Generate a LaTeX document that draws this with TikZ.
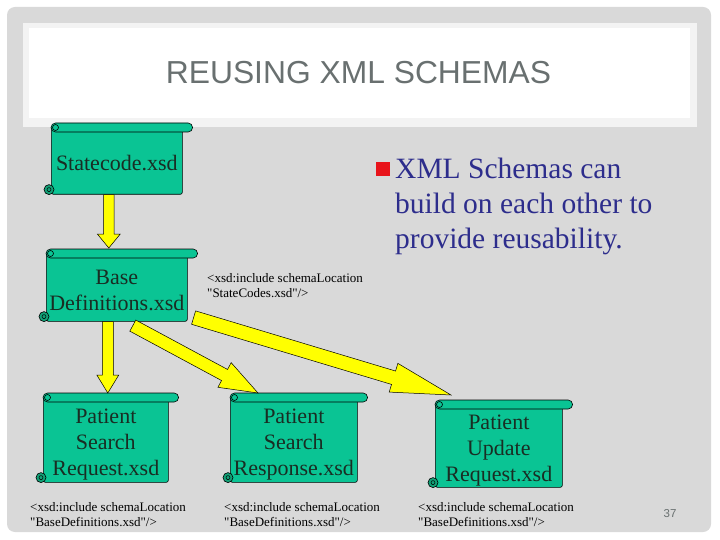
\documentclass[tikz,border=0pt]{standalone}
\usepackage{fontspec}
\setmainfont{Liberation Serif}
\newfontfamily\sansf{Liberation Sans}
\newfontfamily\incfont{Liberation Serif}
\usetikzlibrary{calc}
\definecolor{panelgray}{RGB}{217,217,217}
\definecolor{frameoff}{RGB}{243,243,243}
\definecolor{titlegray}{RGB}{105,112,112}
\definecolor{scrollgreen}{RGB}{10,196,148}
\definecolor{curlgreen}{RGB}{18,160,118}
\definecolor{scrolltext}{RGB}{25,45,35}
\definecolor{arrowyellow}{RGB}{255,255,0}
\definecolor{bulletblue}{RGB}{45,45,140}
\definecolor{bulletred}{RGB}{232,20,27}
\tikzset{
  scrollbody/.style={draw=black, line width=0.6pt, fill=scrollgreen, rounded corners=2pt,
    inner sep=0pt, anchor=north west, text=scrolltext,
    font=\fontsize{22}{26}\selectfont},
  rollpart/.style={draw=black, line width=0.6pt, fill=scrollgreen},
  yarrow/.style={draw=black, line width=0.5pt, fill=arrowyellow, line join=miter},
  inclabel/.style={anchor=north west, inner sep=0pt, align=left,
    font=\incfont\fontsize{13}{15}\selectfont, text=black},
}
\newcommand{\stk}[1]{\raisebox{-4.5pt}[\height][\depth]{\begin{tabular}{@{}c@{}}#1\end{tabular}}}
\newcommand{\scrolldeco}[1]{%
  \draw[rollpart, rounded corners=4.5pt] ([yshift=4pt]#1.north west) rectangle ([xshift=10pt,yshift=-5pt]#1.north east);
  \draw[rollpart] ([xshift=4.5pt,yshift=-0.5pt]#1.north west) circle[radius=3pt];
  \draw[rollpart, fill=curlgreen] ([xshift=-2pt,yshift=5pt]#1.south west) circle[radius=5pt];
  \draw[line width=0.5pt] ([xshift=-2pt,yshift=5pt]#1.south west) circle[radius=2pt];
}
\newcommand{\blockarrow}[5]{%
  \coordinate (ba-h) at ($(#2)!#5!(#1)$);
  \draw[yarrow] ($(#1)!#3!90:(#2)$) -- ($(ba-h)!#3!-90:(#1)$) -- ($(ba-h)!#4!-90:(#1)$) -- (#2)
    -- ($(ba-h)!#4!90:(#1)$) -- ($(ba-h)!#3!90:(#1)$) -- ($(#1)!#3!-90:(#2)$) -- cycle;
}
\begin{document}
\begin{tikzpicture}[x=1pt,y=-1pt]
  \useasboundingbox (0,0) rectangle (720,540);
  \fill[white] (0,0) rectangle (720,540);
  \fill[panelgray, rounded corners=8pt] (7,7) rectangle (711,532);
  \fill[frameoff] (23,23) rectangle (697,127);
  \fill[white] (29,28) rectangle (690,118);
  \node[font=\sansf\fontsize{31.8}{32}\selectfont, text=titlegray] (title) at (358.5,73) {REUSING XML SCHEMAS};

  % scrolls
  \node[scrollbody, minimum width=131pt, minimum height=67pt] (sc) at (51,127) {\stk{Statecode.xsd}};
  \scrolldeco{sc}
  \node[scrollbody, minimum width=141pt, minimum height=68pt] (bd) at (46,253) {\stk{Base\\Definitions.xsd}};
  \scrolldeco{bd}
  \node[scrollbody, minimum width=125pt, minimum height=85pt] (psr) at (43,397) {\stk{Patient\\Search\\Request.xsd}};
  \scrolldeco{psr}
  \node[scrollbody, minimum width=127pt, minimum height=85pt] (psp) at (230,397) {\stk{Patient\\Search\\Response.xsd}};
  \scrolldeco{psp}
  \node[scrollbody, minimum width=127pt, minimum height=83pt] (pur) at (435,404) {\stk{Patient\\Update\\Request.xsd}};
  \scrolldeco{pur}

  % arrows
  \coordinate (a1s) at ([xshift=-8pt]sc.south);
  \coordinate (a1e) at ($(a1s |- bd.north)+(0,-5)$);
  \blockarrow{a1s}{a1e}{5.3pt}{11.5pt}{14pt}
  \coordinate (a2s) at ([xshift=-9pt]bd.south);
  \coordinate (a2e) at ($(a2s |- psr.north)+(0,-4)$);
  \blockarrow{a2s}{a2e}{5.5pt}{11pt}{18pt}
  \coordinate (a3s) at ([xshift=16pt,yshift=-4pt]bd.south);
  \coordinate (a3e) at ([xshift=28pt,yshift=4pt]psp.north west);
  \blockarrow{a3s}{a3e}{6.3pt}{14pt}{38pt}
  \coordinate (a4s) at ([xshift=6pt,yshift=4pt]bd.south east);
  \coordinate (a4e) at ([xshift=16pt,yshift=9pt]pur.north west);
  \blockarrow{a4s}{a4e}{7pt}{15pt}{60pt}

  % include labels
  \node[inclabel] (l0) at (207,273) {<xsd:include schemaLocation\\"StateCodes.xsd"/>};
  \node[inclabel] (l1) at (30,502) {<xsd:include schemaLocation\\"BaseDefinitions.xsd"/>};
  \node[inclabel] (l2) at (224,502) {<xsd:include schemaLocation\\"BaseDefinitions.xsd"/>};
  \node[inclabel] (l3) at (418,502) {<xsd:include schemaLocation\\"BaseDefinitions.xsd"/>};

  % bullet
  \fill[bulletred] (376,162) rectangle (390,176);
  \node[anchor=north west, inner sep=0pt, align=left, text=bulletblue,
    font=\fontsize{29.5}{35}\selectfont] (bullet) at (395,158)
    {XML Schemas can\\build on each other to\\provide reusability.};

  \node[font=\sansf\fontsize{11.5}{12}\selectfont, text=titlegray] (pg) at (670,514) {37};
\end{tikzpicture}
\end{document}
